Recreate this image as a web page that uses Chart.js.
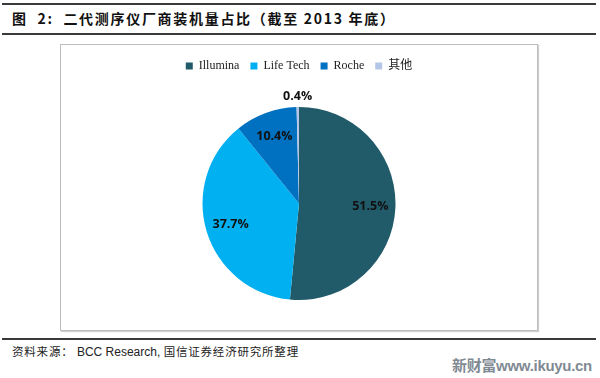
<!DOCTYPE html>
<html>
<head>
<meta charset="utf-8">
<script src="https://cdn.jsdelivr.net/npm/chart.js@4/dist/chart.umd.min.js"></script>
<style>
  html, body { margin: 0; padding: 0; background: #fff; }
  body { width: 600px; height: 378px; position: relative; overflow: hidden; }
  .rule { position: absolute; left: 2px; width: 594px; height: 2px; background: #3a3a3a; }
  #title { position: absolute; left: 12px; top: 8px; font-family: "Noto Sans CJK SC", sans-serif; font-weight: bold; font-size: 14px; line-height: 20px; color: #111; letter-spacing: 1.7px; white-space: nowrap; }
  #frame { position: absolute; left: 60px; top: 44px; width: 476px; height: 285px; border: 1px solid #bdbdbd; box-shadow: 1px 1px 1px #d0d0d0; }
  #src { position: absolute; left: 12px; top: 343px; font-family: "Noto Sans CJK SC", sans-serif; font-size: 11.5px; line-height: 16px; color: #222; white-space: nowrap; letter-spacing: 0.8px; }
  #src .en { font-family: "Liberation Sans", Arial, sans-serif; font-size: 12px; letter-spacing: 0; }
  #wm { position: absolute; left: 452px; top: 356px; font-family: "Liberation Sans", "Noto Sans CJK SC", sans-serif; font-weight: bold; font-size: 15px; line-height: 20px; color: #7f8a93; white-space: nowrap; letter-spacing: -0.3px; }
</style>
</head>
<body>
<div class="rule" style="top:3px"></div>
<div id="title">图&nbsp;&nbsp;2:&nbsp;&nbsp;二代测序仪厂商装机量占比（截至 2013 年底）</div>
<div class="rule" style="top:33px"></div>
<div id="frame"><canvas id="c" width="476" height="285"></canvas></div>
<div class="rule" style="top:338px"></div>
<div id="src">资料来源：&nbsp;<span class="en">BCC Research,</span>&nbsp;国信证券经济研究所整理</div>
<div id="wm">新财富www.ikuyu.cn</div>
<script>
const categories = ["Illumina", "Life Tech", "Roche", "其他"];
const shares = [51.5, 37.7, 10.4, 0.4];
const sliceColors = ["#215A69", "#00B0F0", "#0070C0", "#B4C6E7"];

const legendGap = {
  id: 'legendGap',
  beforeInit(chart) {
    const fit = chart.legend.fit;
    chart.legend.fit = function () {
      fit.bind(chart.legend)();
      this.height += 25;
    };
  }
};

const pieLabels = {
  id: 'pieLabels',
  afterDatasetsDraw(chart) {
    const ctx = chart.ctx;
    const meta = chart.getDatasetMeta(0);
    ctx.save();
    ctx.font = 'bold 12.5px "Open Sans", Lato, sans-serif';
    ctx.fillStyle = '#111';
    ctx.textAlign = 'center';
    ctx.textBaseline = 'middle';
    meta.data.forEach((arc, i) => {
      const p = arc.getProps(['x', 'y', 'startAngle', 'endAngle', 'outerRadius'], true);
      const mid = (p.startAngle + p.endAngle) / 2;
      const v = shares[i];
      const r = v < 2 ? p.outerRadius + 11 : p.outerRadius * 0.74;
      const x = p.x + Math.cos(mid) * r;
      const y = p.y + Math.sin(mid) * r;
      ctx.fillText(v.toFixed(1) + '%', x, y);
    });
    ctx.restore();
  }
};

new Chart(document.getElementById('c'), {
  type: 'pie',
  data: {
    labels: categories,
    datasets: [{
      data: shares,
      backgroundColor: sliceColors,
      borderWidth: 0
    }]
  },
  options: {
    responsive: false,
    animation: false,
    layout: { padding: { top: 4, bottom: 30 } },
    plugins: {
      legend: {
        position: 'top',
        labels: {
          boxWidth: 7,
          boxHeight: 7,
          padding: 11,
          color: '#222',
          font: { family: '"Liberation Serif", "Noto Sans CJK SC", serif', size: 12 }
        }
      },
      tooltip: { enabled: false }
    }
  },
  plugins: [legendGap, pieLabels]
});
</script>
</body>
</html>
